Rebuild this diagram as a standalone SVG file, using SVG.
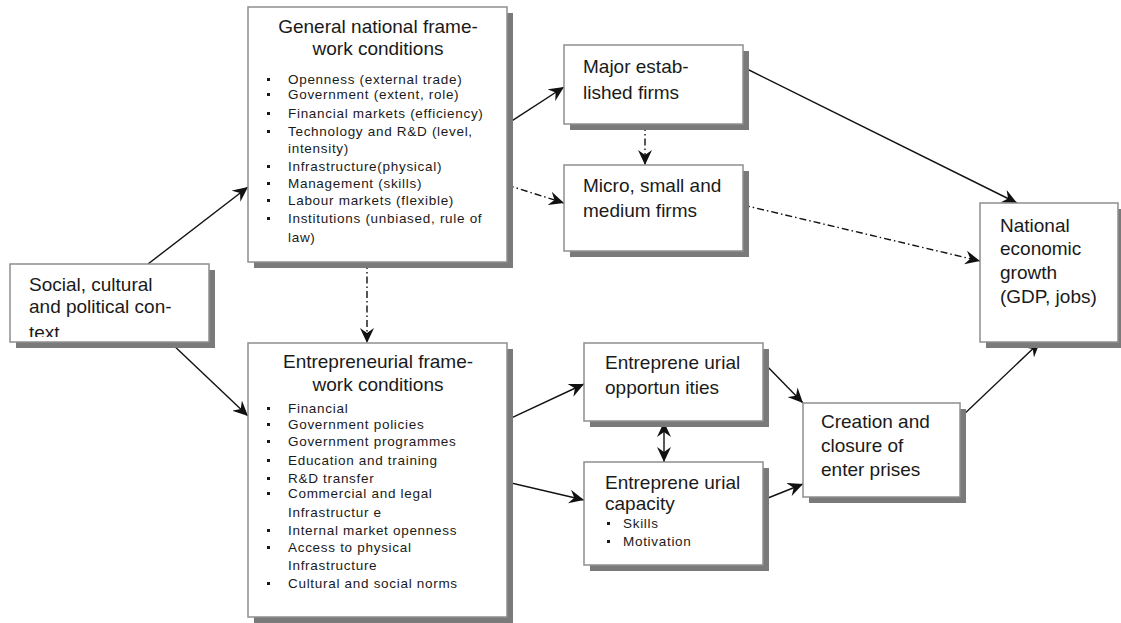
<svg xmlns="http://www.w3.org/2000/svg" width="1121" height="623" viewBox="0 0 1121 623">
<style>
.sh{fill:#7a7a7a}
.bx{fill:#fff;stroke:#8f8f8f;stroke-width:1.5}
.t{font-family:"Liberation Sans",Arial,sans-serif;font-size:19px;fill:#1a1a1a}
.tc{text-anchor:middle}
.s{font-family:"Liberation Sans",Arial,sans-serif;font-size:13.5px;letter-spacing:0.7px;fill:#1a1a1a}
.b{fill:#1a1a1a}
.ln{stroke:#111;stroke-width:1.4;fill:none;marker-end:url(#ah)}
.dd{stroke-dasharray:7,3,1.5,3}
</style>
<defs>
<marker id="ah" markerUnits="userSpaceOnUse" markerWidth="16" markerHeight="14" refX="15" refY="7" orient="auto-start-reverse" viewBox="0 0 16 14">
<path d="M0,0 L15,7 L0,14 L5,7 z" fill="#111"/>
</marker>
<clipPath id="socclip"><rect x="10" y="264" width="199" height="73"/></clipPath>
</defs>
<g id="connectors">
<line class="ln" x1="148" y1="264" x2="248" y2="187"/>
<line class="ln" x1="170" y1="342" x2="248" y2="416"/>
<line class="ln dd" x1="367" y1="262" x2="367" y2="343"/>
<line class="ln" x1="507" y1="124" x2="564" y2="87"/>
<line class="ln dd" x1="507" y1="185" x2="564" y2="203"/>
<line class="ln dd" x1="645" y1="124" x2="645" y2="165"/>
<line class="ln" x1="743" y1="67" x2="1017" y2="203"/>
<line class="ln dd" x1="743" y1="205" x2="980" y2="261"/>
<line class="ln" x1="507" y1="420" x2="584" y2="384"/>
<line class="ln" x1="507" y1="482" x2="584" y2="500"/>
<line class="ln" x1="763" y1="362" x2="803" y2="403"/>
<line class="ln" x1="763" y1="500" x2="803" y2="484"/>
<line class="ln" x1="960" y1="418" x2="1040" y2="342"/>
<line class="ln" x1="664" y1="422" x2="664" y2="462" style="marker-start:url(#ah)"/>
</g>
<g id="social">
<rect class="sh" x="16" y="270" width="199" height="78"/>
<rect class="bx" x="10" y="264" width="199" height="78"/>
<text class="t" x="29" y="291">Social, cultural</text>
<text class="t" x="29" y="313">and political con-</text>
<text class="t" x="29" y="339" clip-path="url(#socclip)">text</text>
</g>
<g id="general">
<rect class="sh" x="254" y="13" width="259" height="255"/>
<rect class="bx" x="248" y="7" width="259" height="255"/>
<text class="t tc" x="378" y="33">General national frame-</text>
<text class="t tc" x="378" y="55">work conditions</text>
<rect class="b" x="267" y="78" width="3" height="3"/><text class="s" x="288" y="84">Openness (external trade)</text>
<rect class="b" x="267" y="93" width="3" height="3"/><text class="s" x="288" y="99">Government (extent, role)</text>
<rect class="b" x="267" y="112" width="3" height="3"/><text class="s" x="288" y="118">Financial markets (efficiency)</text>
<rect class="b" x="267" y="130" width="3" height="3"/><text class="s" x="288" y="136">Technology and R&amp;D (level,</text>
<text class="s" x="288" y="153">intensity)</text>
<rect class="b" x="267" y="165" width="3" height="3"/><text class="s" x="288" y="171">Infrastructure(physical)</text>
<rect class="b" x="267" y="182" width="3" height="3"/><text class="s" x="288" y="188">Management (skills)</text>
<rect class="b" x="267" y="199" width="3" height="3"/><text class="s" x="288" y="205">Labour markets (flexible)</text>
<rect class="b" x="267" y="217" width="3" height="3"/><text class="s" x="288" y="223">Institutions (unbiased, rule of</text>
<text class="s" x="288" y="242">law)</text>
</g>
<g id="entframework">
<rect class="sh" x="254" y="349" width="259" height="274"/>
<rect class="bx" x="248" y="343" width="259" height="274"/>
<text class="t tc" x="378" y="368">Entrepreneurial frame-</text>
<text class="t tc" x="378" y="391">work conditions</text>
<rect class="b" x="267" y="407" width="3" height="3"/><text class="s" x="288" y="413">Financial</text>
<rect class="b" x="267" y="423" width="3" height="3"/><text class="s" x="288" y="429">Government policies</text>
<rect class="b" x="267" y="440" width="3" height="3"/><text class="s" x="288" y="446">Government programmes</text>
<rect class="b" x="267" y="459" width="3" height="3"/><text class="s" x="288" y="465">Education and training</text>
<rect class="b" x="267" y="477" width="3" height="3"/><text class="s" x="288" y="483">R&amp;D transfer</text>
<rect class="b" x="267" y="492" width="3" height="3"/><text class="s" x="288" y="498">Commercial and legal</text>
<text class="s" x="288" y="517">Infrastructur e</text>
<rect class="b" x="267" y="529" width="3" height="3"/><text class="s" x="288" y="535">Internal market openness</text>
<rect class="b" x="267" y="546" width="3" height="3"/><text class="s" x="288" y="552">Access to physical</text>
<text class="s" x="288" y="570">Infrastructure</text>
<rect class="b" x="267" y="582" width="3" height="3"/><text class="s" x="288" y="588">Cultural and social norms</text>
</g>
<g id="major">
<rect class="sh" x="570" y="51" width="179" height="79"/>
<rect class="bx" x="564" y="45" width="179" height="79"/>
<text class="t" x="583" y="73">Major estab-</text>
<text class="t" x="583" y="99">lished firms</text>
</g>
<g id="micro">
<rect class="sh" x="570" y="171" width="179" height="86"/>
<rect class="bx" x="564" y="165" width="179" height="86"/>
<text class="t" x="583" y="192">Micro, small and</text>
<text class="t" x="583" y="217">medium firms</text>
</g>
<g id="national">
<rect class="sh" x="986" y="209" width="138" height="139"/>
<rect class="bx" x="980" y="203" width="138" height="139"/>
<text class="t" x="1000" y="232">National</text>
<text class="t" x="1000" y="255">economic</text>
<text class="t" x="1000" y="279">growth</text>
<text class="t" x="1000" y="303">(GDP, jobs)</text>
</g>
<g id="opportunities">
<rect class="sh" x="590" y="349" width="179" height="78"/>
<rect class="bx" x="584" y="343" width="179" height="78"/>
<text class="t" x="605" y="369">Entreprene urial</text>
<text class="t" x="605" y="394">opportun ities</text>
</g>
<g id="capacity">
<rect class="sh" x="590" y="468" width="179" height="103"/>
<rect class="bx" x="584" y="462" width="179" height="103"/>
<text class="t" x="605" y="489">Entreprene urial</text>
<text class="t" x="605" y="510">capacity</text>
<rect class="b" x="607" y="522" width="3" height="3"/><text class="s" x="623" y="528">Skills</text>
<rect class="b" x="607" y="540" width="3" height="3"/><text class="s" x="623" y="546">Motivation</text>
</g>
<g id="creation">
<rect class="sh" x="809" y="409" width="157" height="94"/>
<rect class="bx" x="803" y="403" width="157" height="94"/>
<text class="t" x="821" y="428">Creation and</text>
<text class="t" x="821" y="452">closure  of</text>
<text class="t" x="821" y="476">enter prises</text>
</g>
</svg>
